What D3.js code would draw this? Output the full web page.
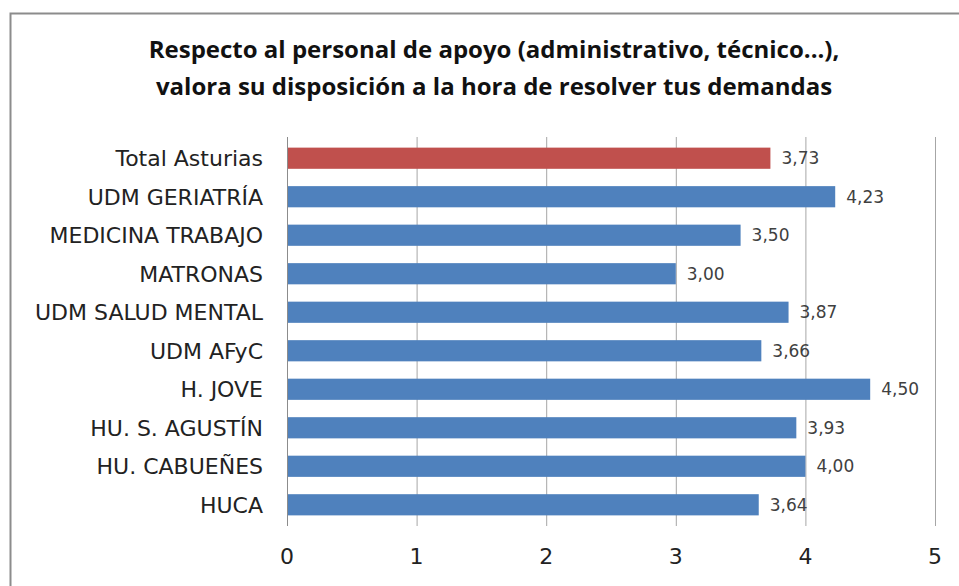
<!DOCTYPE html>
<html>
<head>
<meta charset="utf-8">
<script src="https://cdn.jsdelivr.net/npm/d3@7"></script>
<style>
  body { margin: 0; background: #fff; }
</style>
</head>
<body>
<svg id="chart" width="959" height="586"></svg>
<script>
const categories = ["Total Asturias", "UDM GERIATRÍA", "MEDICINA TRABAJO", "MATRONAS", "UDM SALUD MENTAL",
                    "UDM AFyC", "H. JOVE", "HU. S. AGUSTÍN", "HU. CABUEÑES", "HUCA"];
const values = [3.73, 4.23, 3.50, 3.00, 3.87, 3.66, 4.50, 3.93, 4.00, 3.64];
const xTicks = [0, 1, 2, 3, 4, 5];
const titleLines = ["Respecto al personal de apoyo (administrativo, técnico...),",
                    "valora su disposición a la hora de resolver tus demandas"];

const svg = d3.select("#chart");

// outer frame
svg.append("path")
  .attr("d", "M10.5,586 L10.5,13.5 L959,13.5")
  .attr("fill", "none")
  .attr("stroke", "#8c8c8c")
  .attr("stroke-width", 2);

svg.selectAll(".title")
  .data(titleLines)
  .enter().append("text")
  .attr("x", 494)
  .attr("y", (d, i) => 58 + i * 37)
  .attr("text-anchor", "middle")
  .attr("font-family", "'Liberation Sans Narrow', 'Open Sans', sans-serif")
  .attr("font-weight", "bold")
  .attr("font-size", "24px")
  .attr("fill", "#111")
  .text(d => d);

const x = d3.scaleLinear().domain([0, 5]).range([287, 935]);
const y = d3.scaleBand().domain(categories).range([138, 525]).paddingInner(0.45).paddingOuter(0.25);

// grid lines
svg.selectAll(".grid")
  .data(xTicks)
  .enter().append("line")
  .attr("x1", d => x(d) + 0.5)
  .attr("x2", d => x(d) + 0.5)
  .attr("y1", 137)
  .attr("y2", 526)
  .attr("stroke", d => d === 0 ? "#8c8c8c" : "#a6a6a6")
  .attr("stroke-width", 1);

svg.selectAll(".bar")
  .data(values)
  .enter().append("rect")
  .attr("x", x(0) + 1)
  .attr("y", (d, i) => y(categories[i]))
  .attr("width", d => x(d) - x(0) - 1)
  .attr("height", y.bandwidth())
  .attr("fill", (d, i) => i === 0 ? "#c0504d" : "#4f81bd");

svg.selectAll(".val")
  .data(values)
  .enter().append("text")
  .attr("x", d => x(d) + 11)
  .attr("y", (d, i) => y(categories[i]) + y.bandwidth() / 2 + 6)
  .attr("font-family", "'DejaVu Sans', sans-serif")
  .attr("font-size", "17px")
  .attr("fill", "#404040")
  .text(d => d.toFixed(2).replace(".", ","));

svg.selectAll(".cat")
  .data(categories)
  .enter().append("text")
  .attr("x", 263)
  .attr("y", d => y(d) + y.bandwidth() / 2 + 8)
  .attr("text-anchor", "end")
  .attr("font-family", "'DejaVu Sans', sans-serif")
  .attr("font-size", "22px")
  .attr("fill", "#222")
  .text(d => d);

svg.selectAll(".tick")
  .data(xTicks)
  .enter().append("text")
  .attr("x", d => x(d))
  .attr("y", 564)
  .attr("text-anchor", "middle")
  .attr("font-family", "'DejaVu Sans', sans-serif")
  .attr("font-size", "22px")
  .attr("fill", "#222")
  .text(d => d);
</script>
</body>
</html>
